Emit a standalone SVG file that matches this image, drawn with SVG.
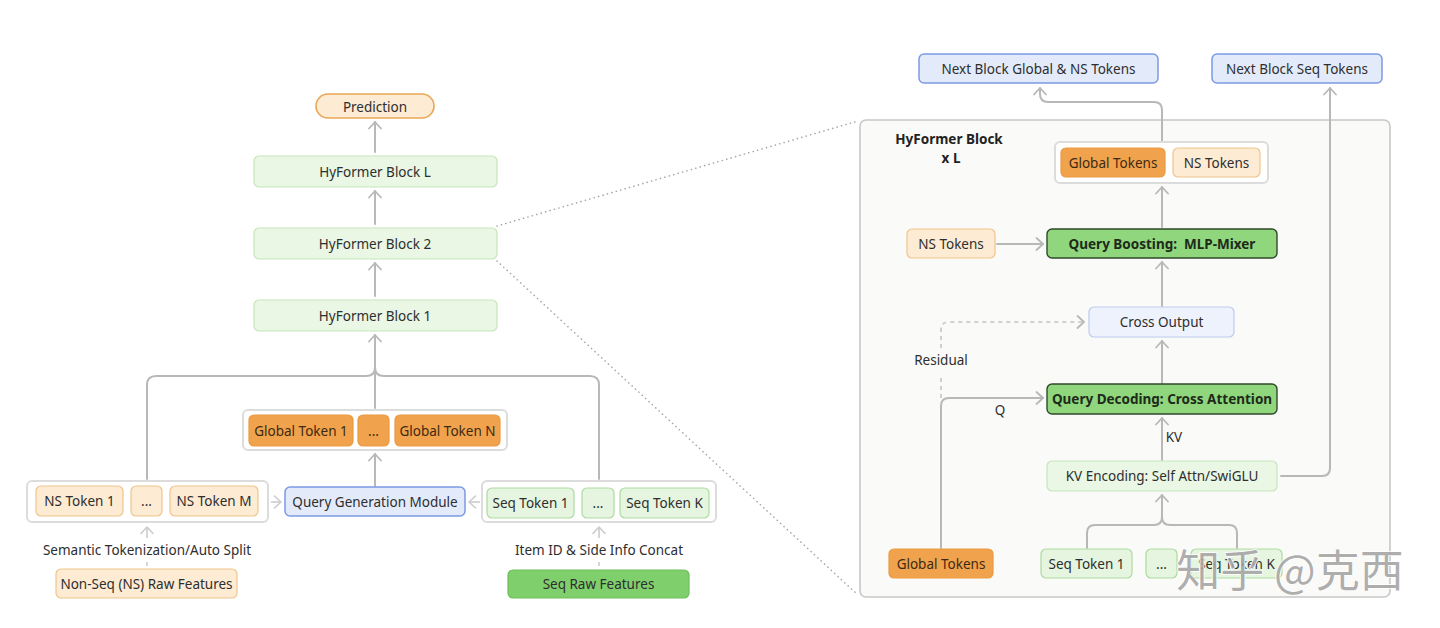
<svg xmlns="http://www.w3.org/2000/svg" width="1440" height="628" viewBox="0 0 1440 628">
<defs>
<marker id="arr" viewBox="0 0 9 14" refX="8" refY="7" markerWidth="9" markerHeight="14" markerUnits="userSpaceOnUse" orient="auto">
<path d="M1.5,1 L8,7 L1.5,13" fill="none" stroke="#b8b8b8" stroke-width="1.8" stroke-linecap="round" stroke-linejoin="round"/>
</marker>
<marker id="arrl" viewBox="0 0 9 14" refX="8" refY="7" markerWidth="9" markerHeight="14" markerUnits="userSpaceOnUse" orient="auto">
<path d="M1.5,1 L8,7 L1.5,13" fill="none" stroke="#cccccc" stroke-width="1.6" stroke-linecap="round" stroke-linejoin="round"/>
</marker>
</defs>
<style>
text{font-family:"Noto Sans","Liberation Sans",sans-serif;font-size:13.5px;fill:#2e2e2e;text-anchor:middle;dominant-baseline:central}
.b{font-weight:bold}
.lg{fill:#e9f7e4;stroke:#c7e5bd;stroke-width:1.2}
.or{fill:#f0a24c;stroke:#eb9a40;stroke-width:1.2}
.lo{fill:#fdebd3;stroke:#efc58c;stroke-width:1.2}
.bl{fill:#e3ebfb;stroke:#7b9be4;stroke-width:1.5}
.lb{fill:#eef2fc;stroke:#bccbee;stroke-width:1.2}
.gr{fill:#8fd67c;stroke:#2f4a2a;stroke-width:1.4}
.sg{fill:#80cf6d;stroke:#6cbf59;stroke-width:1.2}
.ct{fill:#ffffff;stroke:#dcdcdc;stroke-width:2}
.ln{fill:none;stroke:#b8b8b8;stroke-width:2;stroke-linecap:round}
.lt{fill:none;stroke:#cccccc;stroke-width:1.6}
.dl{fill:none;stroke:#cfcfcf;stroke-width:2;stroke-dasharray:4 4}
.dt{fill:none;stroke:#a8a8a8;stroke-width:1.6;stroke-dasharray:0.1 4.5;stroke-linecap:round}
</style>
<rect width="1440" height="628" fill="#ffffff"/>

<g id="hyformer-panel">
<rect x="860" y="120" width="530" height="477" rx="6" fill="#fafaf8" stroke="#c8c8c8" stroke-width="1.6"/>
<text class="b" x="949" y="139" style="font-size:13.5px;fill:#222">HyFormer Block</text>
<text class="b" x="951" y="158" style="font-size:13.5px;fill:#222">x L</text>
</g>

<g id="connectors">
<path class="dt" d="M497,226 L858,121"/>
<path class="dt" d="M497,261 L858,595"/>
<path class="ln" d="M375,152 V122" marker-end="url(#arr)"/>
<path class="ln" d="M375,224 V191" marker-end="url(#arr)"/>
<path class="ln" d="M375,296 V263" marker-end="url(#arr)"/>
<path class="ln" d="M375,408 V335" marker-end="url(#arr)"/>
<path class="ln" d="M147,479 V385 Q147,376 156,376 H366 Q375,376 375,367"/>
<path class="ln" d="M599,479 V385 Q599,376 590,376 H384 Q375,376 375,367"/>
<path class="ln" d="M375,486 V454" marker-end="url(#arr)"/>
<path class="lt" d="M271,502 H281" marker-end="url(#arrl)"/>
<path class="lt" d="M480,502 H469" marker-end="url(#arrl)"/>
<path class="lt" d="M147,538 V527" marker-end="url(#arrl)"/>
<path class="lt" d="M147,562 V566"/>
<path class="lt" d="M599,538 V527" marker-end="url(#arrl)"/>
<path class="lt" d="M599,562 V566"/>
<path class="ln" d="M1162,141 V110 Q1162,102 1154,102 H1048 Q1040,102 1040,94 V88" marker-end="url(#arr)"/>
<path class="ln" d="M1281,476 H1322 Q1330,476 1330,468 V88" marker-end="url(#arr)"/>
<path class="ln" d="M1162,227 V187" marker-end="url(#arr)"/>
<path class="ln" d="M997,244 H1043" marker-end="url(#arr)"/>
<path class="ln" d="M1162,306 V262" marker-end="url(#arr)"/>
<path class="ln" d="M1162,383 V341" marker-end="url(#arr)"/>
<path class="dl" d="M941,398 V374"/>
<path class="dl" d="M941,348 V330 Q941,322 949,322 H1084" marker-end="url(#arr)"/>
<path class="ln" d="M941,548 V406 Q941,398 949,398 H1043" marker-end="url(#arr)"/>
<path class="ln" d="M1162,460 V418" marker-end="url(#arr)"/>
<path class="ln" d="M1087,548 V533 Q1087,525 1095,525 H1154 Q1162,525 1162,517"/>
<path class="ln" d="M1237,548 V533 Q1237,525 1229,525 H1170 Q1162,525 1162,517"/>
<path class="ln" d="M1162,521 V495" marker-end="url(#arr)"/>
<text x="941" y="360">Residual</text>
<text x="1000" y="410">Q</text>
<text x="1174" y="437">KV</text>
<text x="147" y="550">Semantic Tokenization/Auto Split</text>
<text x="599" y="550">Item ID &amp; Side Info Concat</text>
</g>

<g id="prediction">
<rect x="316" y="94" width="118" height="24" rx="12" fill="#fdebd3" stroke="#e8a656" stroke-width="1.6"/>
<text x="375" y="106.5">Prediction</text>
</g>
<g id="block-l">
<rect class="lg" x="254" y="156" width="243" height="31" rx="5"/>
<text x="375" y="171.5">HyFormer Block L</text>
</g>
<g id="block-2">
<rect class="lg" x="254" y="228" width="243" height="31" rx="5"/>
<text x="375" y="243.5">HyFormer Block 2</text>
</g>
<g id="block-1">
<rect class="lg" x="254" y="300" width="243" height="31" rx="5"/>
<text x="375" y="315.5">HyFormer Block 1</text>
</g>
<g id="global-tokens">
<rect class="ct" x="243" y="410" width="264" height="40" rx="5"/>
<rect class="or" x="249" y="415" width="104" height="31" rx="5"/>
<text x="301" y="430.5" style="fill:#3d2a12">Global Token 1</text>
<rect class="or" x="358" y="415" width="31" height="31" rx="5"/>
<text x="373.5" y="430.5" style="fill:#3d2a12">...</text>
<rect class="or" x="395" y="415" width="105" height="31" rx="5"/>
<text x="447.5" y="430.5" style="fill:#3d2a12">Global Token N</text>
</g>
<g id="ns-tokens">
<rect class="ct" x="27" y="481" width="241" height="41" rx="5"/>
<rect class="lo" x="36" y="486" width="87" height="30" rx="5"/>
<text x="79.5" y="501">NS Token 1</text>
<rect class="lo" x="131" y="486" width="31" height="30" rx="5"/>
<text x="146.5" y="501">...</text>
<rect class="lo" x="170" y="486" width="88" height="30" rx="5"/>
<text x="214" y="501">NS Token M</text>
</g>
<g id="query-generation">
<rect class="bl" x="285" y="487" width="180" height="29" rx="5"/>
<text x="375" y="501.5">Query Generation Module</text>
</g>
<g id="seq-tokens">
<rect class="ct" x="482" y="481" width="234" height="41" rx="5"/>
<rect class="lg" x="487" y="488" width="87" height="30" rx="5" style="fill:#e5f5df;stroke:#addb9f"/>
<text x="530.5" y="503">Seq Token 1</text>
<rect class="lg" x="582" y="488" width="32" height="30" rx="5" style="fill:#e5f5df;stroke:#addb9f"/>
<text x="598" y="503">...</text>
<rect class="lg" x="620" y="488" width="89" height="30" rx="5" style="fill:#e5f5df;stroke:#addb9f"/>
<text x="664.5" y="503">Seq Token K</text>
</g>
<g id="ns-raw">
<rect class="lo" x="56" y="569" width="181" height="29" rx="5"/>
<text x="146.5" y="583.5">Non-Seq (NS) Raw Features</text>
</g>
<g id="seq-raw">
<rect class="sg" x="508" y="570" width="181" height="28" rx="5"/>
<text x="598.5" y="584">Seq Raw Features</text>
</g>

<g id="next-global">
<rect class="bl" x="919" y="54" width="239" height="29" rx="5"/>
<text x="1038.5" y="68.5">Next Block Global &amp; NS Tokens</text>
</g>
<g id="next-seq">
<rect class="bl" x="1212" y="54" width="170" height="29" rx="5"/>
<text x="1297" y="68.5">Next Block Seq Tokens</text>
</g>
<g id="out-tokens">
<rect class="ct" x="1055" y="142" width="213" height="41" rx="5"/>
<rect class="or" x="1061" y="148" width="104" height="29" rx="5"/>
<text x="1113" y="162.5" style="fill:#3d2a12">Global Tokens</text>
<rect class="lo" x="1173" y="148" width="87" height="29" rx="5"/>
<text x="1216.5" y="162.5">NS Tokens</text>
</g>
<g id="ns-tokens-in">
<rect class="lo" x="907" y="229" width="88" height="29" rx="5"/>
<text x="951" y="243.5">NS Tokens</text>
</g>
<g id="query-boosting">
<rect class="gr" x="1047" y="229" width="230" height="29" rx="5"/>
<text class="b" x="1162" y="243.5" style="fill:#1e2a1a">Query Boosting:&#160; MLP-Mixer</text>
</g>
<g id="cross-output">
<rect class="lb" x="1089" y="307" width="145" height="30" rx="5"/>
<text x="1161.5" y="322">Cross Output</text>
</g>
<g id="query-decoding">
<rect class="gr" x="1047" y="384" width="230" height="30" rx="5"/>
<text class="b" x="1162" y="399" style="fill:#1e2a1a">Query Decoding: Cross Attention</text>
</g>
<g id="kv-encoding">
<rect class="lg" x="1047" y="461" width="230" height="30" rx="5"/>
<text x="1162" y="476">KV Encoding: Self Attn/SwiGLU</text>
</g>
<g id="global-tokens-in">
<rect class="or" x="889" y="549" width="104" height="29" rx="5"/>
<text x="941" y="563.5" style="fill:#3d2a12">Global Tokens</text>
</g>
<g id="seq-tokens-in">
<rect class="lg" x="1041" y="549" width="91" height="29" rx="5" style="fill:#e5f5df;stroke:#addb9f"/>
<text x="1086.5" y="563.5">Seq Token 1</text>
<rect class="lg" x="1146" y="549" width="31" height="29" rx="5" style="fill:#e5f5df;stroke:#addb9f"/>
<text x="1161.5" y="563.5">...</text>
<rect class="lg" x="1191" y="549" width="91" height="29" rx="5" style="fill:#e5f5df;stroke:#addb9f"/>
<text x="1236.5" y="563.5">Seq Token K</text>
</g>

<g id="watermark">
<text x="1290" y="568" style="font-family:'Noto Sans CJK SC','Noto Sans',sans-serif;font-size:44px;fill:#a0a0a0;fill-opacity:0.85;stroke:#ffffff;stroke-width:1.5;paint-order:stroke">知乎 @克西</text>
</g>
</svg>
